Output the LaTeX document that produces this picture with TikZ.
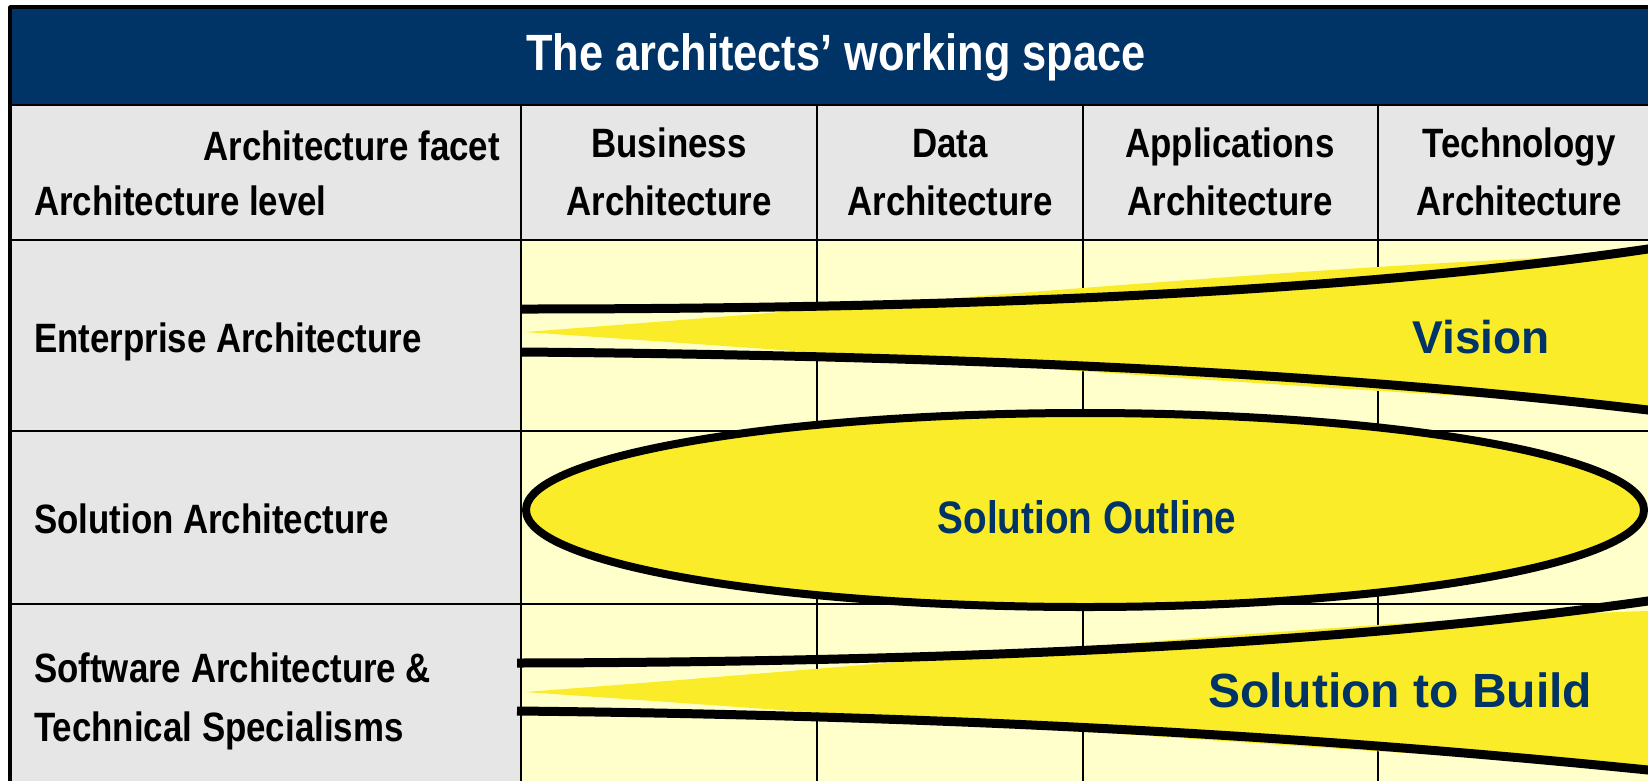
\documentclass[tikz,border=0pt]{standalone}
\usepackage{fontspec}
\setmainfont{Liberation Sans}
\newfontfamily\narrowf[FakeStretch=0.85]{Liberation Sans}
\definecolor{navy}{RGB}{0,51,102}
\definecolor{hdrgray}{RGB}{230,230,230}
\definecolor{cellyellow}{RGB}{255,255,204}
\definecolor{wedge}{RGB}{250,236,40}
\tikzset{
  gridline/.style={draw=black, line width=2.5pt},
  outerline/.style={draw=black, line width=3.5pt},
  bandline/.style={draw=black, line width=9pt},
  wedgefill/.style={fill=wedge},
  ellline/.style={draw=black, line width=8pt, fill=wedge},
  tabtext/.style={inner sep=0pt, font=\narrowf\bfseries\fontsize{41}{49}\selectfont, text=black},
  titletext/.style={inner sep=0pt, font=\narrowf\bfseries\fontsize{51}{60}\selectfont, text=white},
  shapetext/.style={inner sep=0pt, text=navy}
}
\begin{document}
\begin{tikzpicture}[x=1pt,y=-1pt,line join=round]
\useasboundingbox (0,0) rectangle (1648,780);
\clip (0,0) rectangle (1648,780);
% backgrounds
\fill[white] (0,0) rectangle (1648,780);
\fill[navy] (10,7) rectangle (1660,105);
\fill[hdrgray] (10,105) rectangle (1660,240);
\fill[hdrgray] (10,240) rectangle (521,790);
\fill[cellyellow] (521,240) rectangle (1660,790);
% grid
\foreach \yy in {105,240,431,604} \draw[gridline] (10,\yy) -- (1660,\yy);
\foreach \xx in {521,817,1083,1378} \draw[gridline] (\xx,105) -- (\xx,790);
\draw[outerline] (1660,7) -- (10,7) -- (10,790);
% Vision band
\fill[wedgefill] (525,332) .. controls (900,304) and (1350,262) .. (1648,254) -- (1660,253) -- (1660,407) -- (1648,406) .. controls (1350,392) and (900,358) .. (525,332) -- cycle;
\draw[bandline] (521,309) .. controls (1050,309) and (1400,285) .. (1648,249) -- (1660,247);
\draw[bandline] (521,352) .. controls (1000,356) and (1350,375) .. (1648,410) -- (1660,411);
% Solution to Build band
\fill[wedgefill] (525,692) .. controls (900,664) and (1350,620) .. (1648,611) -- (1660,611) -- (1660,768) -- (1648,767) .. controls (1350,752) and (900,718) .. (525,692) -- cycle;
\draw[bandline] (517,663) .. controls (1050,662) and (1400,636) .. (1648,601) -- (1660,599);
\draw[bandline] (517,711) .. controls (1000,716) and (1350,740) .. (1648,770) -- (1660,771);
% Solution outline ellipse
\draw[ellline] (1085,510) ellipse [x radius=559, y radius=97];
% texts
\node[titletext, anchor=base] (title) at (836,70) {The architects’ working space};
\node[tabtext, anchor=base east] (facet) at (500,160) {Architecture facet};
\node[tabtext, anchor=base west] (level) at (34,215) {Architecture level};
\node[tabtext, anchor=base] (bus1) at (669,157) {Business};
\node[tabtext, anchor=base] (bus2) at (669,215) {Architecture};
\node[tabtext, anchor=base] (dat1) at (950,157) {Data};
\node[tabtext, anchor=base] (dat2) at (950,215) {Architecture};
\node[tabtext, anchor=base] (app1) at (1230,157) {Applications};
\node[tabtext, anchor=base] (app2) at (1230,215) {Architecture};
\node[tabtext, anchor=base] (tec1) at (1519,157) {Technology};
\node[tabtext, anchor=base] (tec2) at (1519,215) {Architecture};
\node[tabtext, anchor=base west] (ent) at (34,352) {Enterprise Architecture};
\node[tabtext, anchor=base west] (sol) at (34,533) {Solution Architecture};
\node[tabtext, anchor=base west] (sw1) at (34,682) {Software Architecture \&};
\node[tabtext, anchor=base west] (sw2) at (34,741) {Technical Specialisms};
\node[shapetext, anchor=base, font=\bfseries\fontsize{46}{50}\selectfont] (vision) at (1481,353) {Vision};
\node[shapetext, anchor=base, font=\narrowf\bfseries\fontsize{45.5}{50}\selectfont] (outline) at (1087,533) {Solution Outline};
\node[shapetext, anchor=base, font=\bfseries\fontsize{48}{52}\selectfont] (build) at (1400,707) {Solution to Build};
\end{tikzpicture}
\end{document}
